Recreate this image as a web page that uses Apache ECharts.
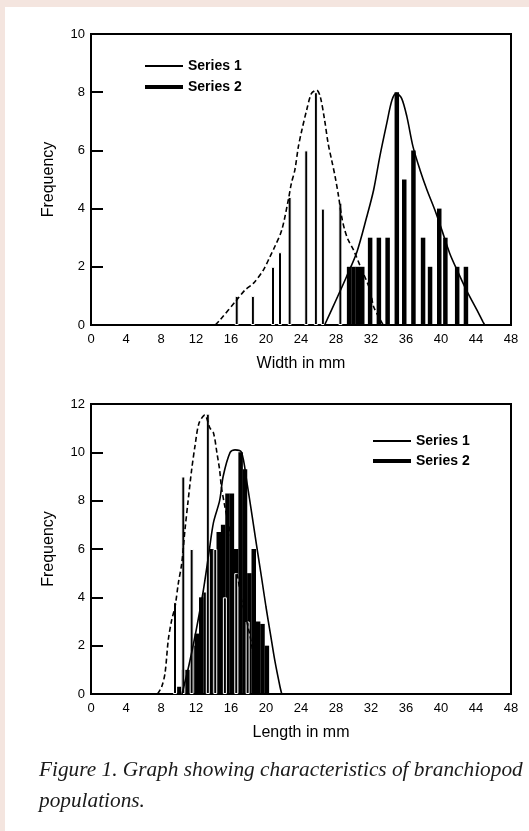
<!DOCTYPE html>
<html><head><meta charset="utf-8">
<script src="https://cdn.jsdelivr.net/npm/echarts@6/dist/echarts.min.js"></script>
<style>
html,body{margin:0;padding:0;background:#f4e5df;width:529px;height:831px;overflow:hidden;}
#c{position:absolute;left:5px;top:7px;width:524px;height:824px;background:#fff;}
</style></head><body><div id="c"></div>
<script>
// ---- Data (top chart: width) ----
const widthS1X = [16.65, 18.5, 20.8, 21.6, 22.7, 24.6, 25.7, 26.5, 28.5];
const widthS1Y = [1, 1, 2, 2.5, 4.4, 6, 8, 4, 4.2];
const widthS2X = [29.5, 30.0, 30.5, 31.0, 31.9, 32.9, 33.9, 34.95, 35.8, 36.85, 37.95, 38.75, 39.8, 40.5, 41.85, 42.85];
const widthS2Y = [2, 2, 2, 2, 3, 3, 3, 8, 5, 6, 3, 2, 4, 3, 2, 2];
const widthFit1X = [14.2, 14.74, 16.65, 17.6, 18.55, 19.7, 20.46, 21.0, 21.8, 22.55, 22.9, 23.3, 23.7, 24.1, 24.65, 25.2, 25.8, 26.2, 26.7, 27.1, 27.5, 27.9, 28.3, 28.65, 29.0, 29.4, 30.0, 30.8, 31.9, 32.3, 33.4];
const widthFit1Y = [0, 0.17, 0.86, 1.2, 1.43, 1.89, 2.35, 2.69, 3.26, 4.3, 4.87, 5.33, 6.13, 6.7, 7.39, 7.96, 8.07, 7.85, 7.04, 6.24, 5.67, 5.1, 4.41, 3.72, 3.26, 2.92, 2.58, 2.0, 1.2, 0.63, 0];
const widthFit2X = [26.7, 28.1, 29.2, 30.4, 31.5, 32.3, 33.0, 33.8, 34.4, 34.9, 35.5, 36.1, 36.8, 37.6, 38.4, 39.3, 40.1, 41.0, 42.0, 42.9, 44.1, 44.8, 45.0];
const widthFit2Y = [0, 0.92, 1.66, 2.52, 3.7, 4.64, 5.78, 6.93, 7.73, 7.96, 7.79, 7.16, 6.13, 5.33, 4.64, 3.95, 3.26, 2.46, 1.78, 1.2, 0.52, 0.11, 0];

// ---- Data (bottom chart: length) ----
const lengthS1X = [9.6, 10.55, 11.5, 13.35, 14.2, 15.3, 16.6, 17.9];
const lengthS1Y = [3.8, 9, 6, 11.6, 6, 4, 5, 3];
const lengthS2X = [10.1, 10.6, 11.1, 11.6, 12.1, 12.6, 13.1, 13.6, 14.1, 14.6, 15.1, 15.6, 16.1, 16.6, 17.1, 17.6, 18.1, 18.6, 19.1, 19.6, 20.1];
const lengthS2Y = [0.3, 1, 1, 2, 2.5, 4, 4.2, 6, 6, 6.7, 7, 8.3, 8.3, 6, 10, 9.3, 5, 6, 3, 2.9, 2];
const lengthFit1X = [7.6, 8.08, 8.46, 8.83, 9.22, 9.6, 9.98, 10.37, 10.74, 11.1, 11.5, 11.9, 12.34, 13.0, 13.6, 14.0, 14.4, 14.7, 14.9, 15.3, 15.7, 16.65, 17.2, 17.6, 18.4, 18.7, 19.1];
const lengthFit1Y = [0, 0.3, 0.86, 2.23, 3.06, 3.6, 4.58, 5.4, 6.8, 8.0, 9.27, 10.3, 11.2, 11.54, 11.0, 10.8, 9.96, 9.27, 8.58, 7.75, 7.06, 5.13, 3.89, 3.34, 1.96, 0.86, 0];
const lengthFit2X = [10.4, 11.2, 12.0, 12.8, 13.5, 14.0, 14.7, 15.1, 15.9, 16.46, 17.2, 17.8, 18.4, 18.9, 19.5, 20.0, 20.5, 21.0, 21.6, 21.8];
const lengthFit2Y = [0, 1.2, 2.6, 4.2, 5.9, 7.1, 8.0, 9.0, 10.0, 10.1, 10.0, 8.8, 7.4, 6.2, 4.8, 3.6, 2.5, 1.4, 0.3, 0];

// ---- Axis ticks / labels ----
const xMin = 0, xMax = 48, xStep = 4;
const widthYMax = 10, lengthYMax = 12, yStep = 2;
const seriesNames = ['Series 1', 'Series 2'];
const xTitles = ['Width in mm', 'Length in mm'];
const yTitle = 'Frequency';
const caption = 'Figure 1. Graph showing characteristics of branchiopod\npopulations.';

const pairs = (xs, ys) => xs.map((x, i) => [x, ys[i]]);
const FONT = 'Liberation Sans, Arial, sans-serif';

const chart = echarts.init(document.getElementById('c'), null, {renderer: 'canvas'});

const grids = [
  {left: 86, top: 27, width: 420, height: 291},
  {left: 86, top: 397, width: 420, height: 290}
];

function xAxes(gi, title) {
  return [{
    gridIndex: gi, type: 'value', min: xMin, max: xMax, interval: xStep,
    axisLine: {show: true, onZero: false, lineStyle: {color: '#000', width: 2}},
    axisTick: {show: false}, splitLine: {show: false},
    axisLabel: {color: '#000', fontSize: 13, fontFamily: FONT, margin: 8, showMinLabel: true, showMaxLabel: true},
    name: title, nameLocation: 'middle', nameGap: 31,
    nameTextStyle: {color: '#000', fontSize: 16, fontFamily: FONT}
  }, {
    gridIndex: gi, type: 'value', min: xMin, max: xMax, interval: xStep, show: false
  }];
}
function yAxis(gi, max) {
  return {
    gridIndex: gi, type: 'value', min: 0, max: max, interval: yStep,
    axisLine: {show: true, lineStyle: {color: '#000', width: 2}},
    axisTick: {show: true, inside: true, length: 12, lineStyle: {color: '#000', width: 2}},
    splitLine: {show: false},
    axisLabel: {color: '#000', fontSize: 13, fontFamily: FONT, margin: 6, showMinLabel: true, showMaxLabel: true},
    name: yTitle, nameLocation: 'middle', nameRotate: 90, nameGap: 34,
    nameTextStyle: {color: '#000', fontSize: 16, fontFamily: FONT}
  };
}
function legend(left, top, gap) {
  return {
    orient: 'vertical', left: left, top: top, padding: 0, itemGap: gap,
    itemWidth: 38, itemHeight: 5, selectedMode: false, symbolKeepAspect: true,
    itemStyle: {color: '#000', borderWidth: 0},
    textStyle: {color: '#000', fontSize: 14, fontWeight: 'bold', fontFamily: FONT},
    data: [
      {name: seriesNames[0], icon: 'path://M0,0H38V2H0Z'},
      {name: seriesNames[1], icon: 'path://M0,0H38V4H0Z'}
    ]
  };
}
function seriesFor(gi, s1x, s1y, s2x, s2y, f1x, f1y, f2x, f2y) {
  const xa = gi * 2;
  return [
    {name: seriesNames[1], type: 'bar', xAxisIndex: xa, yAxisIndex: gi, barWidth: 4.5,
     itemStyle: {color: '#000'}, data: pairs(s2x, s2y), z: 2},
    {name: seriesNames[0], type: 'bar', xAxisIndex: xa + 1, yAxisIndex: gi, barWidth: 4,
     itemStyle: {color: '#000', borderColor: '#fff', borderWidth: 1}, data: pairs(s1x, s1y), z: 3},
    {name: 'fit1-' + gi, type: 'line', xAxisIndex: xa, yAxisIndex: gi, showSymbol: false, smooth: 0.3,
     lineStyle: {color: '#000', width: 1.6, type: [5, 3]}, data: pairs(f1x, f1y), z: 4},
    {name: 'fit2-' + gi, type: 'line', xAxisIndex: xa, yAxisIndex: gi, showSymbol: false, smooth: 0.3,
     lineStyle: {color: '#000', width: 1.6}, data: pairs(f2x, f2y), z: 4}
  ];
}

chart.setOption({
  animation: false,
  backgroundColor: '#fff',
  title: {
    text: caption, left: 34, top: 748, padding: 0,
    textStyle: {fontFamily: 'Liberation Serif, Times New Roman, serif', fontStyle: 'italic', fontWeight: 'normal', fontSize: 21.3, lineHeight: 31, color: '#1a1a1a'}
  },
  grid: grids.map(g => Object.assign({show: true, borderColor: '#000', borderWidth: 2, backgroundColor: 'transparent'}, g)),
  xAxis: [].concat(xAxes(0, xTitles[0]), xAxes(1, xTitles[1])),
  yAxis: [yAxis(0, widthYMax), yAxis(1, lengthYMax)],
  legend: [legend(140, 52, 7), legend(368, 427, 6)],
  series: [].concat(
    seriesFor(0, widthS1X, widthS1Y, widthS2X, widthS2Y, widthFit1X, widthFit1Y, widthFit2X, widthFit2Y),
    seriesFor(1, lengthS1X, lengthS1Y, lengthS2X, lengthS2Y, lengthFit1X, lengthFit1Y, lengthFit2X, lengthFit2Y)
  )
});
</script></body></html>
